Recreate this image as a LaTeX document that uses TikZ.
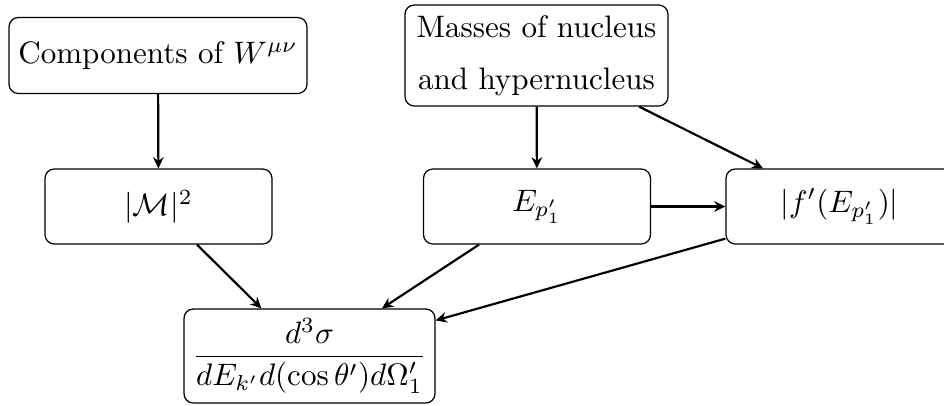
\documentclass[tikz,border=0pt]{standalone}
\usepackage{amsmath}
\usetikzlibrary{arrows.meta}
\begin{document}
\begin{tikzpicture}[x=0.322pt,y=-0.322pt,
  box/.style={draw,thin,rounded corners=3pt,inner sep=0pt,align=center},
  conn/.style={line width=0.7pt,-{Stealth[length=3.6pt,width=3.4pt]}}]
\useasboundingbox (0,0) rectangle (944,405);
\node[box,minimum width=95.96pt,minimum height=24.47pt] (A) at (158,55.5) {Components of $W^{\mu\nu}$};
\node[box,minimum width=84.69pt,minimum height=32.52pt] (B) at (536.5,55.5) {Masses of nucleus\\[4.6pt]and hypernucleus};
\node[box,minimum width=73.09pt,minimum height=24.15pt] (M) at (158.5,206.5) {$|\mathcal{M}|^2$};
\node[box,minimum width=73.09pt,minimum height=24.15pt] (E) at (537,206.5) {$E_{p'_1}$};
\node[box,minimum width=73.09pt,minimum height=24.15pt] (F) at (839.5,206.5) {$|f'(E_{p'_1})|$};
\node[box,minimum width=80.82pt,minimum height=30.27pt] (D) at (309.5,356) {$\dfrac{d^3\sigma}{dE_{k'}d(\cos\theta')d\Omega'_1}$};
\draw[conn] (A) -- (M);
\draw[conn] (B) -- (E);
\draw[conn] (B) -- (F);
\draw[conn] (E) -- (F);
\draw[conn] (M) -- (D);
\draw[conn] (E) -- (D);
\draw[conn] (F) -- (D);
\end{tikzpicture}
\end{document}
